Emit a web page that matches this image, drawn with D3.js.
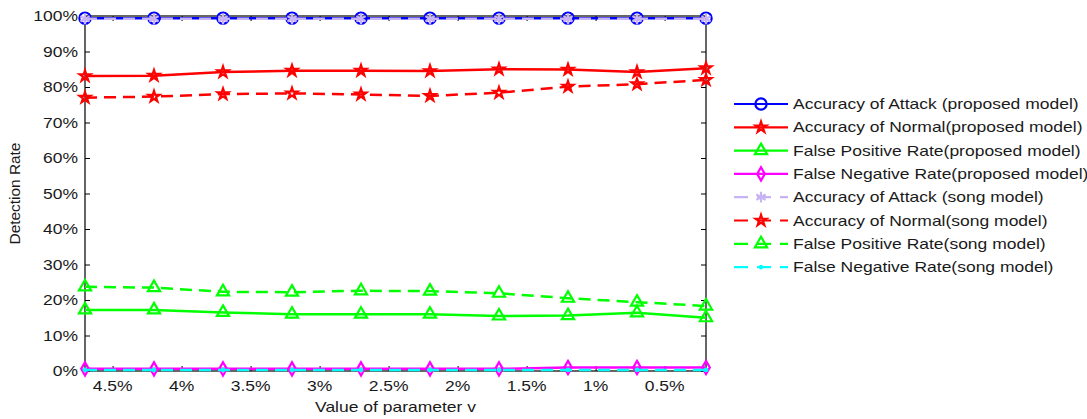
<!DOCTYPE html>
<html>
<head>
<meta charset="utf-8">
<script src="https://cdn.jsdelivr.net/npm/d3@7"></script>
<style>
  body { margin: 0; background: #fff; }
  text { font-family: "Liberation Sans", Arial, sans-serif; fill: #1a1a1a; }
</style>
</head>
<body>
<div id="canvas"></div>
<script>
// data
var vValues = [4.7, 4.2, 3.7, 3.2, 2.7, 2.2, 1.7, 1.2, 0.7, 0.2];
var xTicks = [4.5, 4, 3.5, 3, 2.5, 2, 1.5, 1, 0.5];
var xTickLabels = ["4.5%", "4%", "3.5%", "3%", "2.5%", "2%", "1.5%", "1%", "0.5%"];
var yTicks = [0, 10, 20, 30, 40, 50, 60, 70, 80, 90, 100];
var yTickLabels = ["0%", "10%", "20%", "30%", "40%", "50%", "60%", "70%", "80%", "90%", "100%"];

var attackProposed = [99.4, 99.4, 99.4, 99.4, 99.4, 99.4, 99.4, 99.4, 99.4, 99.4];
var normalProposed = [83.1, 83.2, 84.2, 84.6, 84.6, 84.5, 85.0, 84.9, 84.2, 85.3];
var fpProposed = [17.2, 17.2, 16.5, 16.0, 16.0, 16.0, 15.5, 15.6, 16.4, 15.0];
var fnProposed = [0.6, 0.6, 0.6, 0.6, 0.6, 0.6, 0.6, 1.0, 1.0, 1.0];
var attackSong = [99.2, 99.2, 99.2, 99.2, 99.2, 99.2, 99.2, 99.2, 99.2, 99.2];
var normalSong = [77.0, 77.3, 78.0, 78.2, 77.9, 77.5, 78.4, 80.1, 80.8, 82.0];
var fpSong = [23.7, 23.5, 22.3, 22.2, 22.6, 22.5, 21.9, 20.5, 19.4, 18.3];
var fnSong = [0.3, 0.3, 0.3, 0.3, 0.3, 0.3, 0.3, 0.3, 0.3, 0.3];

var seriesNames = [
  "Accuracy of Attack (proposed model)",
  "Accuracy of Normal(proposed model)",
  "False Positive Rate(proposed model)",
  "False Negative Rate(proposed model)",
  "Accuracy of Attack (song model)",
  "Accuracy of Normal(song model)",
  "False Positive Rate(song model)",
  "False Negative Rate(song model)"
];

var w = 1087, h = 419;
var plotL = 85, plotR = 706, plotT = 16, plotB = 371;
var sx = 1.25; // matlab text looks stretched sideways

var svg = d3.select("#canvas").append("svg").attr("width", w).attr("height", h);

var x = d3.scaleLinear().domain([4.7, 0.2]).range([plotL, plotR]);
var y = d3.scaleLinear().domain([0, 100]).range([plotB, plotT]);

var asterisk = d3.symbolAsterisk || d3.symbolCross;

var series = [
  {vals: attackProposed, color: "#0000ff", dash: null, sym: d3.symbolCircle, size: 100},
  {vals: normalProposed, color: "#ff0000", dash: null, sym: d3.symbolStar, size: 36},
  {vals: fpProposed, color: "#00ff00", dash: null, sym: d3.symbolTriangle, size: 64},
  {vals: fnProposed, color: "#ff00ff", dash: null, sym: d3.symbolDiamond, size: 50},
  {vals: attackSong, color: "#c8b4f5", dash: "12,7", sym: asterisk, size: 80},
  {vals: normalSong, color: "#ff0000", dash: "12,7", sym: d3.symbolStar, size: 36},
  {vals: fpSong, color: "#00ff00", dash: "12,7", sym: d3.symbolTriangle, size: 64},
  {vals: fnSong, color: "#00ffff", dash: "12,7", sym: d3.symbolCircle, size: 5}
];

function scaledText(g, px, py, str, anchor, size) {
  return g.append("text")
    .attr("transform", "translate(" + px + "," + py + ") scale(" + sx + ",1)")
    .attr("text-anchor", anchor)
    .style("font-size", size + "px")
    .text(str);
}

// axes ticks, pointing inwards like matlab
svg.append("g").attr("transform", "translate(0," + plotB + ")")
  .call(d3.axisBottom(x).tickValues(xTicks).tickSize(-5).tickSizeOuter(0).tickFormat(""));
svg.append("g").attr("transform", "translate(0," + plotT + ")")
  .call(d3.axisTop(x).tickValues(xTicks).tickSize(-5).tickSizeOuter(0).tickFormat(""));
svg.append("g").attr("transform", "translate(" + plotL + ",0)")
  .call(d3.axisLeft(y).tickValues(yTicks).tickSize(-5).tickSizeOuter(0).tickFormat(""));
svg.append("g").attr("transform", "translate(" + plotR + ",0)")
  .call(d3.axisRight(y).tickValues(yTicks).tickSize(-5).tickSizeOuter(0).tickFormat(""));
svg.selectAll(".domain").remove();
svg.selectAll(".tick line").attr("stroke", "#000");

svg.append("rect")
  .attr("x", plotL).attr("y", plotT)
  .attr("width", plotR - plotL).attr("height", plotB - plotT)
  .attr("fill", "none").attr("stroke", "#000").attr("stroke-width", 1.2);

// tick labels
var labels = svg.append("g");
xTicks.forEach(function(t, i) {
  scaledText(labels, x(t), 391, xTickLabels[i], "middle", 14);
});
yTicks.forEach(function(t, i) {
  scaledText(labels, 78, y(t) + 5, yTickLabels[i], "end", 14);
});

scaledText(svg, (plotL + plotR) / 2, 412, "Value of parameter v", "middle", 14);
svg.append("text")
  .attr("transform", "translate(20," + ((plotT + plotB) / 2) + ") rotate(-90) scale(1.1,1)")
  .attr("text-anchor", "middle")
  .style("font-size", "14px")
  .text("Detection Rate");

// lines and markers
var line = d3.line().x(function(d, i) { return x(vValues[i]); }).y(function(d) { return y(d); });

series.forEach(function(s) {
  svg.append("path")
    .attr("d", line(s.vals))
    .attr("fill", "none")
    .attr("stroke", s.color)
    .attr("stroke-width", 2.5)
    .attr("stroke-dasharray", s.dash);
  svg.selectAll(null).data(s.vals).enter().append("path")
    .attr("transform", function(d, i) { return "translate(" + x(vValues[i]) + "," + y(d) + ")"; })
    .attr("d", d3.symbol().type(s.sym).size(s.size))
    .attr("fill", s.size < 10 ? s.color : "none")
    .attr("stroke", s.color)
    .attr("stroke-width", 2.2);
});

// legend
var legend = svg.append("g");
for (var i = 0; i < series.length; i++) {
  var s = series[i];
  var ly = 104 + i * 23.3;
  legend.append("line")
    .attr("x1", 734).attr("x2", 788).attr("y1", ly).attr("y2", ly)
    .attr("stroke", s.color).attr("stroke-width", 2.2)
    .attr("stroke-dasharray", s.dash ? "14,9" : null);
  legend.append("path")
    .attr("transform", "translate(761," + ly + ")")
    .attr("d", d3.symbol().type(s.sym).size(s.size))
    .attr("fill", s.size < 10 ? s.color : "none")
    .attr("stroke", s.color).attr("stroke-width", 2.2);
  scaledText(legend, 793, ly + 5, seriesNames[i], "start", 14);
}
</script>
</body>
</html>
